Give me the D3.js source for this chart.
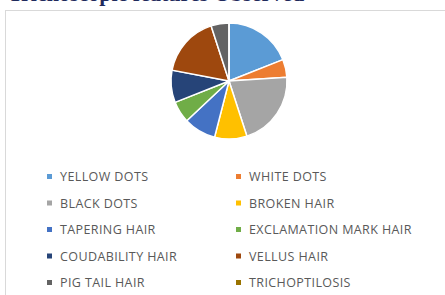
<!DOCTYPE html>
<html>
<head>
<meta charset="utf-8">
<script src="https://cdn.jsdelivr.net/npm/d3@7"></script>
<style>
  body { margin: 0; background: #fff; }
</style>
</head>
<body>
<div id="chart"></div>
<script>
// chart data
var categories = ["YELLOW DOTS", "WHITE DOTS", "BLACK DOTS", "BROKEN HAIR", "TAPERING HAIR",
  "EXCLAMATION MARK HAIR", "COUDABILITY HAIR", "VELLUS HAIR", "PIG TAIL HAIR", "TRICHOPTILOSIS"];
var values = [19, 5, 21, 9, 9, 6, 9, 17, 5, 0];
var colors = ["#5b9bd5", "#ed7d31", "#a5a5a5", "#ffc000", "#4472c4",
  "#70ad47", "#264478", "#9e480e", "#636363", "#997300"];

var svgWidth = 445;
var svgHeight = 295;

var svg = d3.select("#chart")
  .append("svg")
  .attr("width", svgWidth)
  .attr("height", svgHeight);

// title of the page above, cut off by the crop
svg.append("text")
  .attr("x", 8)
  .attr("y", 0.5)
  .attr("font-family", "Liberation Serif, serif")
  .attr("font-weight", "bold")
  .attr("font-size", 22)
  .attr("fill", "#1f2a5c")
  .text("Trichoscopic features Observed");

// chart frame
svg.append("rect")
  .attr("x", 5.5)
  .attr("y", 10.5)
  .attr("width", 450)
  .attr("height", 300)
  .attr("fill", "none")
  .attr("stroke", "#d9d9d9");

// Pie
var radius = 58;
var pieGroup = svg.append("g")
  .attr("transform", "translate(229, 81)");

var pie = d3.pie().sort(null).value(d => d);
var arc = d3.arc().innerRadius(0).outerRadius(radius);

pieGroup.selectAll("path")
  .data(pie(values))
  .enter()
  .append("path")
  .attr("d", arc)
  .attr("fill", (d, i) => colors[i])
  .attr("stroke", "#fff")
  .attr("stroke-width", 1.5);

// Legend, two columns
var colX = [47, 236];
var rowY = d3.scaleLinear().domain([0, 4]).range([176, 282]);

var legend = svg.selectAll("g.legend")
  .data(categories)
  .enter()
  .append("g")
  .attr("class", "legend")
  .attr("transform", (d, i) => `translate(${colX[i % 2]}, ${rowY(Math.floor(i / 2))})`);

legend.append("rect")
  .attr("x", 0)
  .attr("y", -2)
  .attr("width", 5)
  .attr("height", 5)
  .attr("fill", (d, i) => colors[i]);

legend.append("text")
  .attr("x", 13)
  .attr("y", 5)
  .attr("font-family", "Open Sans, sans-serif")
  .attr("font-size", 12.5)
  .attr("letter-spacing", 0.4)
  .attr("fill", "#595959")
  .text(d => d);
</script>
</body>
</html>
